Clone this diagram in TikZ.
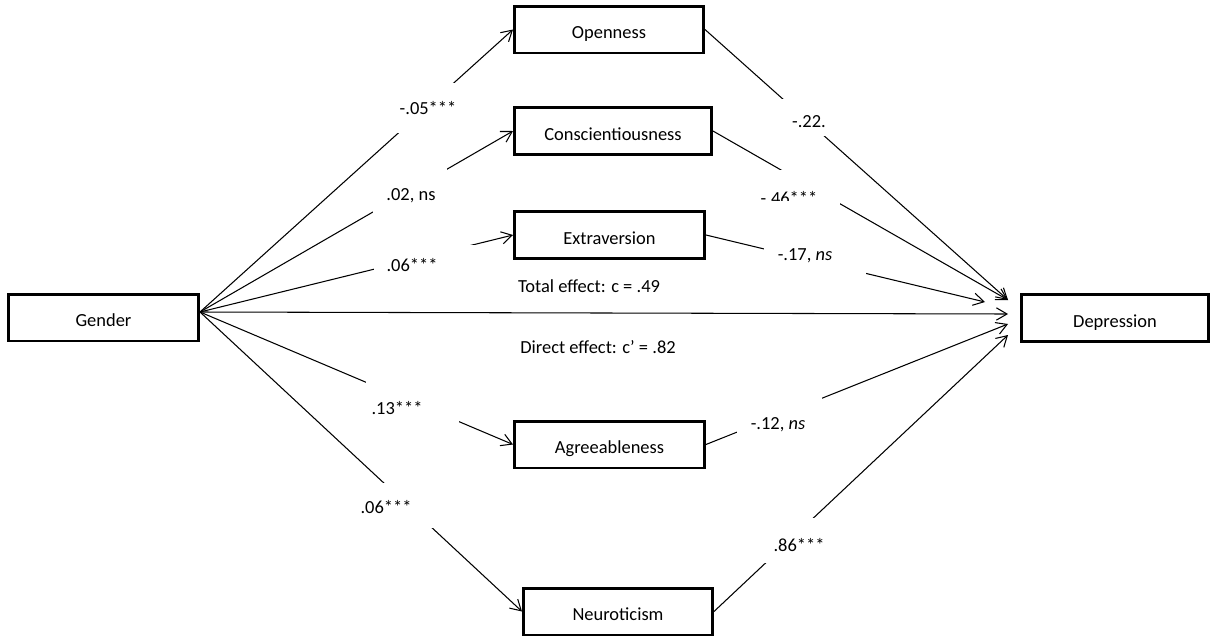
\documentclass[tikz,border=0pt]{standalone}
\usepackage{fontspec}
\setmainfont{Carlito}
\usetikzlibrary{arrows.meta}
\begin{document}
\begin{tikzpicture}[x=0.02cm,y=-0.02cm,
  var/.style={draw, line width=1.7pt, minimum width=#1, minimum height=0.94cm,
    inner sep=0pt, text height=10.6pt, text depth=0pt,
    font=\fontsize{10.5}{12}\selectfont},
  conn/.style={-{Straight Barb[length=6pt,width=7pt]}, line width=0.6pt},
  lbl/.style={font=\fontsize{10.5}{12}\selectfont, inner sep=0pt},
  mask/.style={fill=white}]
\useasboundingbox[fill=white] (0,0) rectangle (1221,643);

% boxes
\node[var=3.8cm]  (G) at (103.5,317.5) {Gender};
\node[var=3.78cm] (O) at (609,29.5)    {Openness};
\node[var=3.94cm] (C) at (613,131)     {Conscientiousness};
\node[var=3.8cm]  (E) at (609.5,235)   {Extraversion};
\node[var=3.8cm]  (A) at (609.5,444.5) {Agreeableness};
\node[var=3.78cm] (N) at (618,611.5)   {Neuroticism};
\node[var=3.74cm] (D) at (1115,318)    {Depression};

% connector end points
\coordinate (g0) at (200,312);
\coordinate (d1) at (1008,300);
\coordinate (d2) at (985,302);
\coordinate (d3) at (1008,314);
\coordinate (d4) at (1008,324);
\coordinate (d5) at (1008,335);

% connectors
\draw[conn] (g0) -- (O.west);
\draw[conn] (g0) -- (C.west);
\draw[conn] (g0) -- (E.west);
\draw[conn] (g0) -- (A.west);
\draw[conn] (g0) -- (N.west);
\draw[conn] (g0) -- (d3);
\draw[conn] (O.east) -- (d1);
\draw[conn] (C.east) -- (d1);
\draw[conn] (E.east) -- (d2);
\draw[conn] (A.east) -- (d4);
\draw[conn] (N.east) -- (d5);

% label backgrounds (gaps in the connectors)
\fill[mask] (393,83) rectangle (463,133);
\fill[mask] (373,168) rectangle (447,216);
\fill[mask] (374,245) rectangle (475,282);
\fill[mask] (366,380) rectangle (459,430);
\fill[mask] (355,483) rectangle (440,528);
\fill[mask] (780,99) rectangle (836,136);
\fill[mask] (755,170) rectangle (840,208);
\fill[mask] (764,236) rectangle (866,276);
\fill[mask] (737,395) rectangle (822,437);
\fill[mask] (760,518) rectangle (830,563);

% labels
\node[lbl] (l1) at (428,108) {-.05***};
\node[lbl] (l2) at (411,196) {.02, ns};
\node[lbl] (l3) at (412,265) {.06***};
\node[lbl] (l4) at (397,408) {.13***};
\node[lbl] (l5) at (386,507) {.06***};
\node[lbl] (l6) at (809,122) {-.22.};
\begin{scope}
  \clip (740,160) rectangle (860,200);
  \node[lbl] (l7) at (789,198) {-.46***};
\end{scope}
\node[lbl] (l8) at (805,256) {-.17, \textit{ns}};
\node[lbl] (l9) at (778,425) {-.12, \textit{ns}};
\node[lbl] (l10) at (799,545) {.86***};
\node[lbl] (tot) at (589,286) {Total effect: c = .49};
\node[lbl] (dir) at (598,347) {Direct effect: c’ = .82};
\end{tikzpicture}
\end{document}
